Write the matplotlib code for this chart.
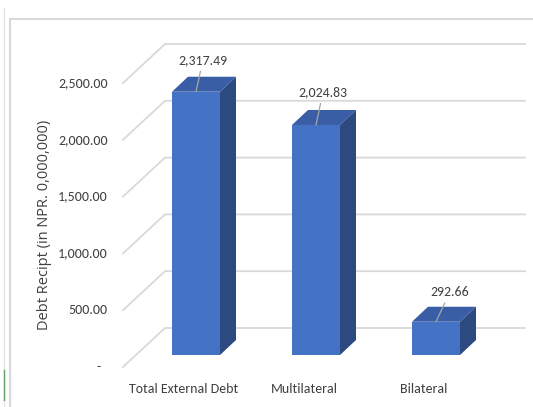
import matplotlib
matplotlib.use('Agg')
import matplotlib.pyplot as plt
from matplotlib.patches import Polygon
from matplotlib.lines import Line2D
from matplotlib import font_manager

categories = ['Total External Debt', 'Multilateral', 'Bilateral']
values = [2317.49, 2024.83, 292.66]
y_ticks = [0, 500, 1000, 1500, 2000, 2500]
y_label = 'Debt Recipt (in NPR. 0,000,000)'

installed = {f.name for f in font_manager.fontManager.ttflist}
narrow = [f for f in ['Carlito', 'Archivo Narrow', 'Liberation Sans'] if f in installed][:1] + ['DejaVu Sans']

W, H = 533, 407
fig = plt.figure(figsize=(W / 100, H / 100), dpi=100)
ax = fig.add_axes([136 / W, 52 / H, 360 / W, 284 / H])
ax.set_xlim(-0.5, 2.5)
ax.set_ylim(0, 2500)
ax.axis('off')

front_c = '#4472C4'
top_c = '#3A5EA6'
side_c = '#2D4A80'
grid_c = '#D9D9D9'
text_c = '#404040'


def shift(x, y, dx, dy):
    # move a data point by (dx, dy) display pixels
    px, py = ax.transData.transform((x, y))
    return tuple(ax.transData.inverted().transform((px + dx, py + dy)))


# back wall gridlines with the diagonal to the front plane
for v in y_ticks:
    p_front = shift(-0.5, v, -13, -12)
    p_bl = shift(-0.5, v, 29, 27)
    p_br = shift(2.5, v, 29, 27)
    ax.plot([p_front[0], p_bl[0], p_br[0]], [p_front[1], p_bl[1], p_br[1]],
            color=grid_c, lw=1.3, clip_on=False, zorder=1)
    lx, ly = shift(-0.5, v, -28 if v else -35, -12)
    ax.text(lx, ly, f'{v:,.2f}' if v else '-', ha='right', va='center',
            fontsize=10, family=narrow, color=text_c)

# bars with a top and side face for the 3D look
x = list(range(len(values)))
w = 0.4
ax.bar(x, values, width=w, color=front_c, zorder=3, clip_on=False)
for xi, v in zip(x, values):
    top = [(xi - w / 2, v), (xi + w / 2, v), shift(xi + w / 2, v, 16, 15), shift(xi - w / 2, v, 16, 15)]
    side = [(xi + w / 2, 0), (xi + w / 2, v), shift(xi + w / 2, v, 16, 15), shift(xi + w / 2, 0, 16, 15)]
    ax.add_patch(Polygon(top, closed=True, facecolor=top_c, edgecolor='none', zorder=3, clip_on=False))
    ax.add_patch(Polygon(side, closed=True, facecolor=side_c, edgecolor='none', zorder=3, clip_on=False))

label_offsets = [(7, 32), (7, 33), (14, 30)]
for xi, v, (dx, dy) in zip(x, values, label_offsets):
    ax.annotate(f'{v:,.2f}', xy=(xi, v), xytext=(dx, dy), textcoords='offset pixels',
                ha='center', va='center', fontsize=10, family=narrow, color=text_c,
                arrowprops=dict(arrowstyle='-', color='#A6A6A6', lw=0.9, shrinkA=2, shrinkB=0),
                zorder=5)

for xi, c in zip(x, categories):
    cx, cy = shift(xi, 0, -12, -34)
    ax.text(cx, cy, c, ha='center', va='center', fontsize=10, family=narrow, color=text_c)

fig.text(45 / W, 1 - 225 / H, y_label, rotation=90, ha='center', va='center',
         fontsize=10.5, family='Open Sans', color=text_c)

# chart area border
fig.add_artist(Line2D([10 / W, 1], [1 - 19 / H, 1 - 19 / H], color=grid_c, lw=1.5))
fig.add_artist(Line2D([10 / W, 10 / W], [0, 1 - 19 / H], color=grid_c, lw=1.5))
fig.add_artist(Line2D([4 / W, 4 / W], [0, 1 - 8 / H], color='#E4E4E4', lw=1.0))
fig.add_artist(Line2D([4 / W, 4 / W], [1 - 400 / H, 1 - 370 / H], color='#5FA36A', lw=1.0))

fig.savefig('out.png', dpi=100)
